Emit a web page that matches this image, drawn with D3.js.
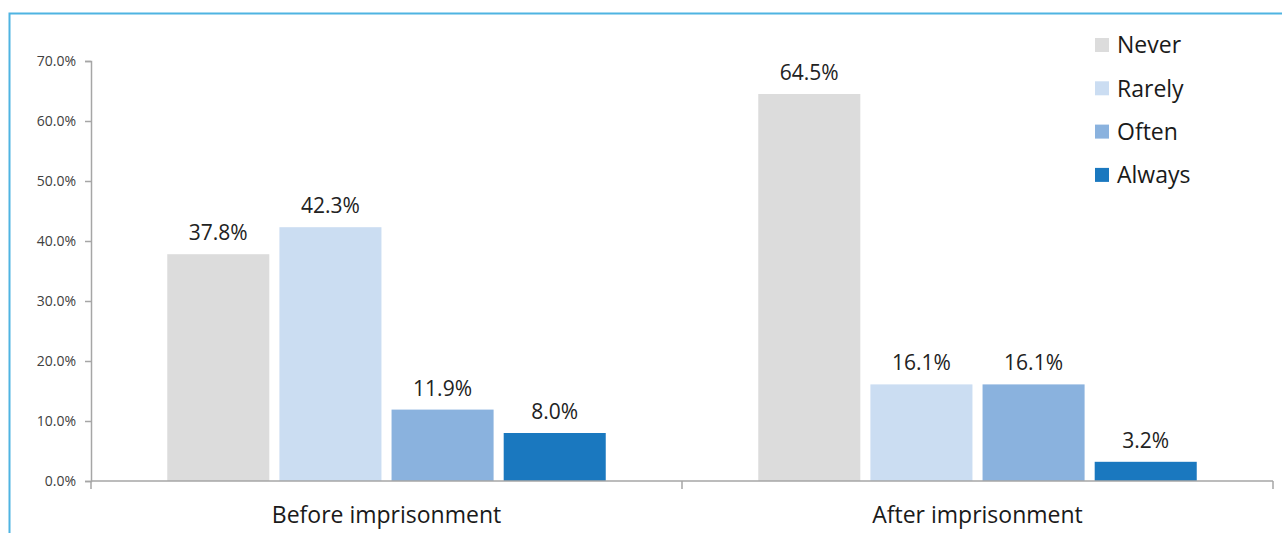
<!DOCTYPE html>
<html>
<head>
<meta charset="utf-8">
<script src="https://cdn.jsdelivr.net/npm/d3@7"></script>
<style>
  body { margin: 0; background: #fff; }
  svg { display: block; font-family: 'Open Sans', sans-serif; }
</style>
</head>
<body>
<div id="chart"></div>
<script>
const width = 1282;
const height = 533;

const categories = ['Before imprisonment', 'After imprisonment'];
const series = ['Never', 'Rarely', 'Often', 'Always'];
const colors = ['#dcdcdc', '#cbddf2', '#8ab2de', '#1a78bf'];
const before = [37.8, 42.3, 11.9, 8.0];
const after = [64.5, 16.1, 16.1, 3.2];
const yTicks = [0, 10, 20, 30, 40, 50, 60, 70];

const rows = categories.map((c, i) => ({
  cat: c,
  values: series.map((s, j) => ({ s, v: (i === 0 ? before : after)[j] }))
}));

const svg = d3.select('#chart').append('svg')
  .attr('width', width)
  .attr('height', height);

// frame
svg.append('rect')
  .attr('x', 9.5).attr('y', 13.5)
  .attr('width', 1300).attr('height', 600)
  .attr('fill', 'none')
  .attr('stroke', '#4fb4e2')
  .attr('stroke-width', 2);

const x0 = d3.scaleBand().domain(categories).range([91, 1273]);
const x1 = d3.scaleBand().domain(series).range([0, x0.bandwidth()])
  .paddingInner(0.09).paddingOuter(0.68);
const y = d3.scaleLinear().domain([0, 70]).range([481, 61]);
const color = d3.scaleOrdinal().domain(series).range(colors);

// y axis
const yAxis = svg.append('g')
  .attr('transform', 'translate(91,0)')
  .call(d3.axisLeft(y).tickValues(yTicks).tickSize(6).tickPadding(9)
    .tickFormat(d => d.toFixed(1) + '%'));
yAxis.select('.domain').attr('stroke', '#a6a6a6').attr('stroke-width', 1.5);
yAxis.selectAll('.tick line').attr('stroke', '#a6a6a6').attr('stroke-width', 1.5);
yAxis.selectAll('.tick text')
  .attr('font-size', 14).attr('fill', '#404040')
  .attr('font-family', 'Open Sans, sans-serif');

// bars
const g = svg.selectAll('g.cat').data(rows).enter().append('g')
  .attr('class', 'cat')
  .attr('transform', d => `translate(${x0(d.cat)},0)`);

g.selectAll('rect').data(d => d.values).enter().append('rect')
  .attr('x', d => x1(d.s))
  .attr('y', d => y(d.v))
  .attr('width', x1.bandwidth())
  .attr('height', d => y(0) - y(d.v))
  .attr('fill', d => color(d.s));

g.selectAll('text').data(d => d.values).enter().append('text')
  .attr('x', d => x1(d.s) + x1.bandwidth() / 2)
  .attr('y', d => y(d.v) - 14)
  .attr('text-anchor', 'middle')
  .attr('font-size', 21)
  .attr('fill', '#222')
  .text(d => d.v.toFixed(1) + '%');

// x axis
const xAxis = svg.append('g')
  .attr('transform', `translate(0,${y(0)})`)
  .call(d3.axisBottom(x0).tickSize(0).tickPadding(26));
xAxis.select('.domain').remove();
xAxis.selectAll('.tick text')
  .attr('font-size', 23).attr('fill', '#1a1a1a')
  .attr('font-family', 'Open Sans, sans-serif');
const [xa, xb] = x0.range();
svg.append('line')
  .attr('x1', xa).attr('x2', xb)
  .attr('y1', y(0)).attr('y2', y(0))
  .attr('stroke', '#a6a6a6').attr('stroke-width', 1.5);
const bounds = categories.map(c => x0(c)).concat([xb]);
svg.selectAll('line.bound').data(bounds).enter().append('line')
  .attr('class', 'bound')
  .attr('x1', d => d).attr('x2', d => d)
  .attr('y1', y(0)).attr('y2', y(0) + 8)
  .attr('stroke', '#a6a6a6').attr('stroke-width', 1.5);

// legend
const legend = svg.selectAll('g.legend').data(series).enter().append('g')
  .attr('class', 'legend')
  .attr('transform', (d, i) => `translate(1095,${45 + i * 43.3})`);
legend.append('rect')
  .attr('x', 0).attr('y', -7)
  .attr('width', 14).attr('height', 14)
  .attr('fill', d => color(d));
legend.append('text')
  .attr('x', 22).attr('y', 0)
  .attr('dy', '0.36em')
  .attr('font-size', 23)
  .attr('fill', '#1a1a1a')
  .text(d => d);
</script>
</body>
</html>
